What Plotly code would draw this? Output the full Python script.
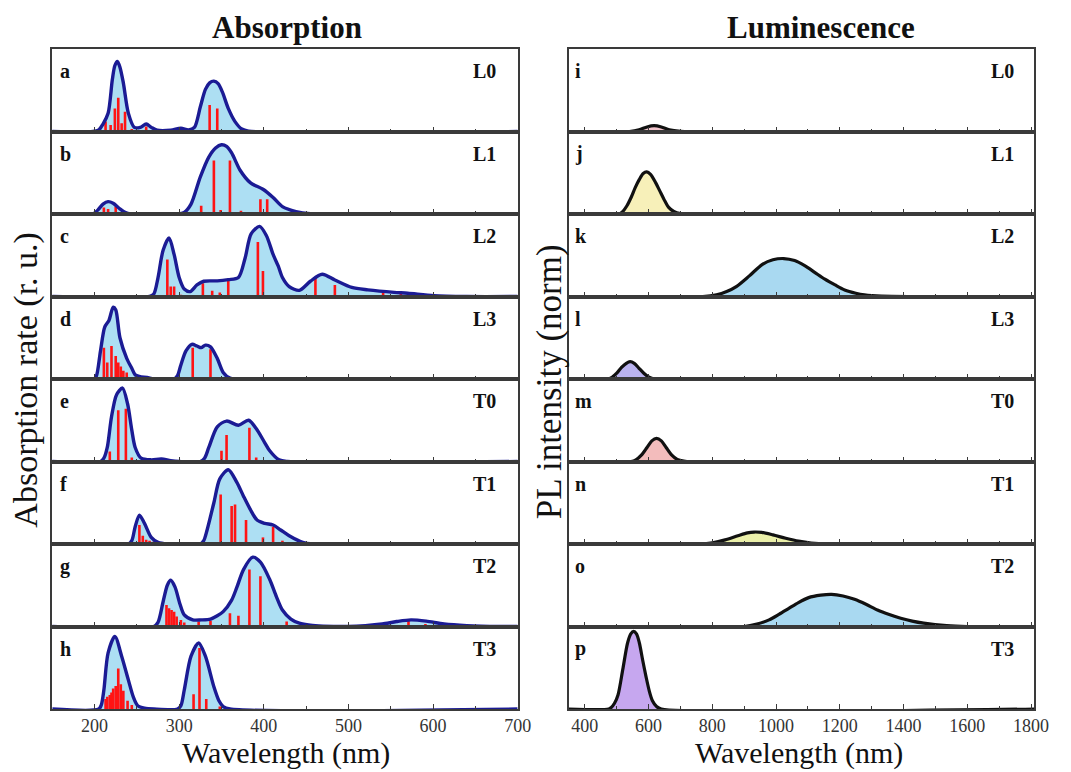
import plotly.graph_objects as go
from plotly.subplots import make_subplots

# ---------------- Absorption envelopes (wavelength nm, normalised rate) -------------
abs_x_L0 = [150, 198, 205, 210, 216, 221, 224, 227, 230, 234, 240, 247, 254, 261, 267, 274, 290, 302, 311, 318, 325, 331, 336, 341, 346, 351, 358, 366, 374, 382, 700]
abs_y_L0 = [0, 0, 0.02, 0.09, 0.22, 0.63, 0.80, 0.85, 0.78, 0.59, 0.22, 0.05, 0.05, 0.09, 0.05, 0.015, 0.015, 0.04, 0.02, 0.05, 0.30, 0.51, 0.59, 0.61, 0.58, 0.48, 0.28, 0.12, 0.03, 0.005, 0]

abs_x_L1 = [150, 198, 204, 210, 216, 222, 229, 236, 243, 298, 306, 314, 325, 335, 343, 350, 356, 362, 372, 384, 399, 411, 422, 438, 455, 700]
abs_y_L1 = [0, 0, 0.05, 0.12, 0.15, 0.13, 0.07, 0.02, 0, 0, 0.02, 0.12, 0.45, 0.69, 0.80, 0.84, 0.82, 0.74, 0.53, 0.38, 0.30, 0.20, 0.09, 0.03, 0.003, 0]

abs_x_L2 = [150, 265, 270, 275, 281, 288, 294, 300, 306, 313, 321, 329, 345, 358, 370, 378, 385, 395, 403, 411, 417, 422, 430, 442, 455, 469, 484, 504, 523, 554, 570, 601, 640, 700]
abs_y_L2 = [0, 0, 0.03, 0.23, 0.56, 0.71, 0.51, 0.23, 0.09, 0.06, 0.14, 0.185, 0.19, 0.205, 0.23, 0.47, 0.76, 0.85, 0.74, 0.51, 0.37, 0.23, 0.12, 0.075, 0.185, 0.27, 0.20, 0.11, 0.08, 0.05, 0.04, 0.01, 0, 0]

abs_x_L3 = [150, 199, 202, 207, 212, 217, 222, 225, 230, 238, 244, 248, 255, 262, 270, 294, 298, 302, 308, 315, 321, 326, 331, 337, 345, 352, 360, 368, 700]
abs_y_L3 = [0, 0, 0.03, 0.34, 0.63, 0.71, 0.87, 0.84, 0.50, 0.25, 0.13, 0.05, 0.025, 0.02, 0, 0, 0.04, 0.17, 0.34, 0.42, 0.40, 0.38, 0.41, 0.39, 0.25, 0.08, 0.01, 0, 0]

abs_x_T0 = [150, 207, 211, 215, 220, 226, 233, 239, 244, 248, 255, 267, 279, 290, 300, 325, 330, 335, 345, 356, 370, 382, 391, 401, 407, 418, 428, 700]
abs_y_T0 = [0, 0, 0.04, 0.17, 0.54, 0.81, 0.89, 0.70, 0.38, 0.17, 0.04, 0.02, 0.03, 0.01, 0, 0, 0.04, 0.17, 0.42, 0.49, 0.44, 0.50, 0.40, 0.23, 0.13, 0.02, 0, 0]

abs_x_T1 = [150, 240, 244, 248, 253, 259, 267, 275, 286, 325, 329, 333, 341, 348, 358, 368, 376, 384, 392, 401, 411, 420, 430, 446, 458, 700]
abs_y_T1 = [0, 0, 0.04, 0.21, 0.35, 0.25, 0.08, 0.02, 0, 0, 0.04, 0.17, 0.50, 0.79, 0.90, 0.75, 0.58, 0.42, 0.29, 0.25, 0.23, 0.17, 0.10, 0.02, 0, 0]

abs_x_T2 = [150, 270, 275, 281, 286, 290, 295, 301, 306, 316, 326, 337, 345, 352, 362, 368, 376, 387, 396, 407, 415, 422, 432, 442, 455, 470, 500, 520, 540, 557, 574, 592, 613, 640, 679, 700]
abs_y_T2 = [0, 0, 0.05, 0.30, 0.50, 0.56, 0.48, 0.27, 0.14, 0.08, 0.08, 0.09, 0.13, 0.18, 0.32, 0.47, 0.69, 0.84, 0.78, 0.57, 0.36, 0.20, 0.09, 0.04, 0.015, 0.005, 0, 0.01, 0.03, 0.06, 0.08, 0.065, 0.03, 0.01, 0, 0]

abs_x_T3 = [150, 205, 208, 211, 216, 224, 232, 240, 246, 251, 259, 270, 298, 302, 306, 314, 323, 331, 341, 347, 352, 360, 700]
abs_y_T3 = [0, 0, 0.05, 0.23, 0.68, 0.88, 0.64, 0.35, 0.14, 0.04, 0.01, 0, 0, 0.04, 0.23, 0.64, 0.80, 0.64, 0.27, 0.10, 0.03, 0, 0]

# ---------------- Oscillator sticks (wavelength nm, height) -------------
stick_x_L0 = [213, 219, 224, 228, 232, 236, 244, 261, 302, 336, 345]
stick_h_L0 = [0.12, 0.08, 0.28, 0.41, 0.10, 0.24, 0.03, 0.06, 0.03, 0.32, 0.28]
stick_x_L1 = [211, 216, 225, 326, 341, 349, 360, 373, 396, 404, 436]
stick_h_L1 = [0.08, 0.06, 0.09, 0.10, 0.65, 0.05, 0.65, 0.04, 0.18, 0.18, 0.02]
stick_x_L2 = [286, 290, 294, 302, 328, 339, 348, 358, 393, 399, 461, 484, 541, 562]
stick_h_L2 = [0.45, 0.12, 0.12, 0.02, 0.16, 0.07, 0.05, 0.20, 0.66, 0.31, 0.23, 0.14, 0.08, 0.04]
stick_x_L3 = [211, 215, 220, 225, 228, 231, 234, 238, 316, 337]
stick_h_L3 = [0.38, 0.20, 0.40, 0.28, 0.20, 0.15, 0.10, 0.08, 0.38, 0.36]
stick_x_T0 = [218, 228, 237, 244, 350, 356, 383, 391]
stick_h_T0 = [0.12, 0.62, 0.64, 0.05, 0.13, 0.32, 0.41, 0.05]
stick_x_T1 = [253, 257, 261, 265, 270, 349, 362, 366, 379, 399, 411, 422]
stick_h_T1 = [0.23, 0.10, 0.05, 0.04, 0.03, 0.60, 0.46, 0.48, 0.29, 0.08, 0.21, 0.04]
stick_x_T2 = [285, 288, 291, 294, 297, 302, 306, 323, 337, 360, 370, 383, 396, 427, 571, 591]
stick_h_T2 = [0.26, 0.22, 0.20, 0.18, 0.12, 0.08, 0.05, 0.06, 0.07, 0.16, 0.13, 0.69, 0.61, 0.06, 0.07, 0.03]
stick_x_T3 = [213, 215, 218, 220, 222, 225, 228, 231, 234, 239, 244, 317, 324, 332, 348]
stick_h_T3 = [0.12, 0.15, 0.17, 0.20, 0.25, 0.28, 0.49, 0.30, 0.22, 0.10, 0.05, 0.18, 0.74, 0.12, 0.03]

# ---------------- Luminescence (wavelength nm, normalised PL) -------------
pl_x_L0 = [350, 540, 570, 595, 617, 640, 665, 700, 1810]
pl_y_L0 = [0, 0, 0.02, 0.055, 0.07, 0.055, 0.02, 0.003, 0]
pl_x_L1 = [350, 508, 519, 532, 545, 558, 571, 583, 594, 606, 622, 635, 648, 663, 679, 700, 1810]
pl_y_L1 = [0, 0, 0.03, 0.10, 0.20, 0.32, 0.42, 0.49, 0.51, 0.48, 0.38, 0.28, 0.18, 0.08, 0.03, 0.005, 0]
pl_x_L2 = [350, 770, 813, 845, 875, 916, 957, 990, 1024, 1058, 1091, 1122, 1153, 1185, 1215, 1250, 1277, 1330, 1810]
pl_y_L2 = [0, 0, 0.02, 0.06, 0.12, 0.25, 0.39, 0.445, 0.46, 0.435, 0.37, 0.29, 0.21, 0.14, 0.08, 0.04, 0.02, 0.005, 0]
pl_x_L3 = [350, 470, 485, 500, 515, 530, 542, 555, 570, 585, 600, 620, 1810]
pl_y_L3 = [0, 0, 0.02, 0.07, 0.14, 0.19, 0.21, 0.19, 0.13, 0.07, 0.025, 0, 0]
pl_x_T0 = [350, 545, 560, 578, 595, 610, 625, 640, 655, 672, 690, 720, 1810]
pl_y_T0 = [0, 0, 0.02, 0.08, 0.17, 0.25, 0.28, 0.25, 0.17, 0.08, 0.025, 0, 0]
pl_x_T1 = [350, 760, 800, 840, 880, 910, 931, 955, 990, 1030, 1070, 1110, 1160, 1810]
pl_y_T1 = [0, 0, 0.015, 0.05, 0.10, 0.135, 0.145, 0.14, 0.11, 0.07, 0.035, 0.012, 0, 0]
pl_x_T2 = [350, 900, 940, 978, 1010, 1040, 1070, 1102, 1140, 1174, 1210, 1246, 1282, 1318, 1355, 1391, 1427, 1463, 1535, 1600, 1810]
pl_y_T2 = [0, 0, 0.03, 0.08, 0.15, 0.22, 0.29, 0.35, 0.38, 0.39, 0.37, 0.33, 0.27, 0.20, 0.145, 0.10, 0.065, 0.04, 0.01, 0, 0]
pl_x_T3 = [350, 475, 483, 493, 504, 519, 534, 544, 553, 562, 571, 581, 592, 602, 612, 625, 640, 1810]
pl_y_T3 = [0, 0, 0.02, 0.07, 0.17, 0.48, 0.80, 0.91, 0.94, 0.91, 0.80, 0.60, 0.39, 0.22, 0.10, 0.03, 0, 0]

# ---------------- Labels -------------
species = ["L0", "L1", "L2", "L3", "T0", "T1", "T2", "T3"]
abs_letters = ["a", "b", "c", "d", "e", "f", "g", "h"]
pl_letters = ["i", "j", "k", "l", "m", "n", "o", "p"]
abs_ticks = [200, 300, 400, 500, 600, 700]
pl_ticks = [400, 600, 800, 1000, 1200, 1400, 1600, 1800]
pl_fills = ["#f2c4cc", "#f7f0b9", "#a9d9f1", "#bab3ef", "#f3bcbc", "#ebf0a9", "#a9d9f1", "#c6a7ef"]

abs_sets = [
    (abs_x_L0, abs_y_L0, stick_x_L0, stick_h_L0),
    (abs_x_L1, abs_y_L1, stick_x_L1, stick_h_L1),
    (abs_x_L2, abs_y_L2, stick_x_L2, stick_h_L2),
    (abs_x_L3, abs_y_L3, stick_x_L3, stick_h_L3),
    (abs_x_T0, abs_y_T0, stick_x_T0, stick_h_T0),
    (abs_x_T1, abs_y_T1, stick_x_T1, stick_h_T1),
    (abs_x_T2, abs_y_T2, stick_x_T2, stick_h_T2),
    (abs_x_T3, abs_y_T3, stick_x_T3, stick_h_T3),
]
pl_sets = [
    (pl_x_L0, pl_y_L0), (pl_x_L1, pl_y_L1), (pl_x_L2, pl_y_L2), (pl_x_L3, pl_y_L3),
    (pl_x_T0, pl_y_T0), (pl_x_T1, pl_y_T1), (pl_x_T2, pl_y_T2), (pl_x_T3, pl_y_T3),
]

W, H = 1071, 772
FONT = "Liberation Serif"
ABS_FILL = "#addff3"
ABS_LINE = "#1b1b94"
FRAME = "#3a3a3a"

fig = make_subplots(rows=8, cols=2, vertical_spacing=0, horizontal_spacing=0.05)

top_px, bot_px = 49, 709
row_h = (bot_px - top_px) / 8
left_dom = [53 / W, 525 / W]
right_dom = [577 / W, 1049 / W]

for i in range(8):
    r = i + 1
    x, y, sx, sh = abs_sets[i]
    fig.add_trace(go.Scatter(x=x, y=y, mode="lines",
                             line=dict(width=0, shape="spline", smoothing=0.8, color=ABS_FILL),
                             fill="tozeroy", fillcolor=ABS_FILL, hoverinfo="skip", showlegend=False),
                  row=r, col=1)
    fig.add_trace(go.Scatter(x=sx, y=[0] * len(sx), mode="markers",
                             marker=dict(size=1, color="rgba(0,0,0,0)"),
                             error_y=dict(type="data", symmetric=False, array=sh,
                                          arrayminus=[0] * len(sx), width=0, thickness=2.6,
                                          color="#ff1414"),
                             showlegend=False),
                  row=r, col=1)
    fig.add_trace(go.Scatter(x=x, y=y, mode="lines",
                             line=dict(width=3.4, shape="spline", smoothing=0.8, color=ABS_LINE),
                             showlegend=False),
                  row=r, col=1)

    px_, py_ = pl_sets[i]
    fig.add_trace(go.Scatter(x=px_, y=py_, mode="lines",
                             line=dict(width=3.2, shape="spline", smoothing=0.8, color="#111111"),
                             fill="tozeroy", fillcolor=pl_fills[i], showlegend=False),
                  row=r, col=2)

    y1 = 1 - (top_px + i * row_h) / H
    y0 = 1 - (top_px + (i + 1) * row_h) / H
    last = (r == 8)
    common = dict(showline=True, mirror=True, linecolor=FRAME, linewidth=1.6,
                  showgrid=False, zeroline=False, ticks="inside", ticklen=5,
                  tickcolor=FRAME, showticklabels=last,
                  tickfont=dict(family=FONT, size=18, color="#333333"))
    fig.update_xaxes(range=[150, 700], domain=left_dom, tickvals=abs_ticks,
                     minor=dict(dtick=50, ticks="inside", ticklen=3, tickcolor=FRAME),
                     row=r, col=1, **common)
    fig.update_xaxes(range=[350, 1810], domain=right_dom, tickvals=pl_ticks,
                     minor=dict(dtick=100, ticks="inside", ticklen=3, tickcolor=FRAME),
                     row=r, col=2, **common)
    for c in (1, 2):
        fig.update_yaxes(range=[0, 1], domain=[y0, y1], showline=True, mirror=True,
                         linecolor=FRAME, linewidth=1.6, showgrid=False, zeroline=False,
                         ticks="", showticklabels=False, row=r, col=c)

annotations = []

def ann(text, xpx, ypx, size, bold=False, xanchor="center", yanchor="middle", angle=0):
    annotations.append(dict(
        text=("<b>%s</b>" % text) if bold else text,
        x=xpx / W, y=1 - ypx / H, xref="paper", yref="paper",
        xanchor=xanchor, yanchor=yanchor, showarrow=False, textangle=angle,
        borderpad=0,
        font=dict(family=FONT, size=size, color="#111111")))

for i in range(8):
    yc = top_px + i * row_h + 22
    ann(abs_letters[i], 60, yc, 20, bold=True, xanchor="left")
    ann(species[i], 504, yc, 20, bold=True, xanchor="right")
    ann(pl_letters[i], 582, yc, 20, bold=True, xanchor="left")
    ann(species[i], 1029, yc, 20, bold=True, xanchor="right")

ann("Absorption", 291, 27, 31, bold=True)
ann("Luminescence", 833, 27, 31, bold=True)
ann("Wavelength (nm)", 290, 771, 30, yanchor="bottom")
ann("Wavelength (nm)", 810, 771, 30, yanchor="bottom")
ann("Absorption rate (r. u.)", 26, 380, 34, angle=-90)
ann("PL intensity (norm)", 557, 382, 35, angle=-90)

fig.update_layout(width=W, height=H, margin=dict(l=0, r=0, t=0, b=0),
                  paper_bgcolor="white", plot_bgcolor="white",
                  annotations=annotations, showlegend=False)

fig.write_html("out.html", config={"displayModeBar": False},
               post_script="document.body.style.margin='0px';document.body.style.overflow='hidden';")
